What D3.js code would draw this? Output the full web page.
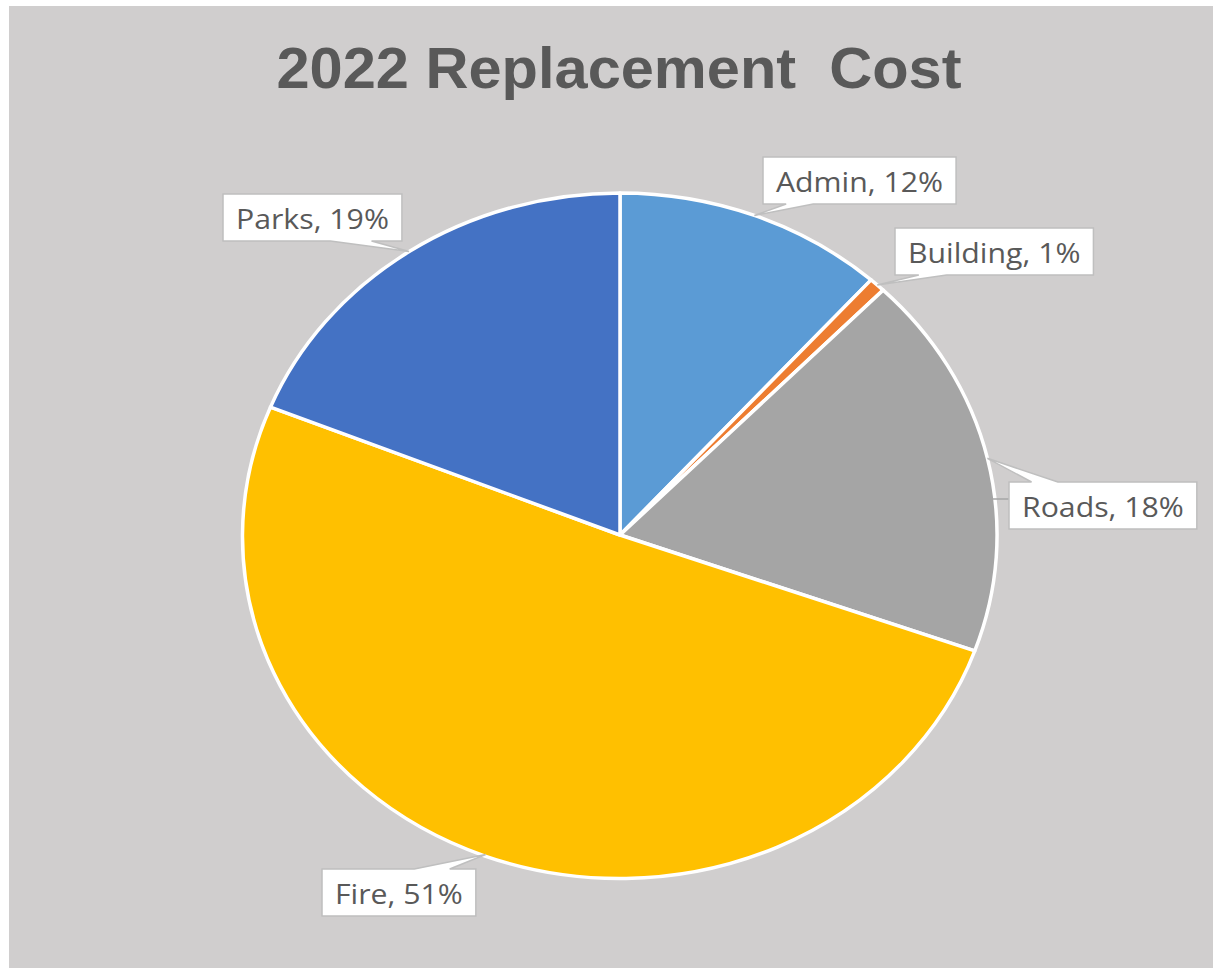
<!DOCTYPE html>
<html>
<head>
<meta charset="utf-8">
<title>2022 Replacement Cost</title>
<script src="https://cdn.jsdelivr.net/npm/d3@7"></script>
<style>
body { margin: 0; background: #fff; }
svg { display: block; }
</style>
</head>
<body>
<div id="grafico"></div>
<script>
// data
var categories = ["Admin", "Building", "Roads", "Fire", "Parks"];
var values = [11.6, 0.7, 18.2, 50.6, 18.9];
var colors = ["#5B9BD5", "#ED7D31", "#A5A5A5", "#FFC000", "#4472C4"];
var title = "2022 Replacement  Cost";

// layout of the label boxes (top-left corner)
var boxPos = {
	Admin:    [763, 157],
	Building: [895, 228],
	Roads:    [1009, 482],
	Fire:     [322, 869],
	Parks:    [223, 194]
};

var W = 1213, H = 968;
var cx = 620, cy = 535, rx = 377, ry = 342;

var svg = d3.select("#grafico").append("svg")
	.attr("width", W)
	.attr("height", H);

// chart area
svg.append("rect")
	.attr("x", 9).attr("y", 6)
	.attr("width", W - 9).attr("height", H - 6)
	.attr("fill", "#D0CECE");

svg.append("text")
	.attr("x", 619).attr("y", 88)
	.attr("text-anchor", "middle")
	.attr("font-family", "'Liberation Sans', Arial, sans-serif")
	.attr("font-weight", "bold")
	.attr("font-size", 57)
	.attr("fill", "#595959")
	.attr("textLength", 685)
	.attr("lengthAdjust", "spacingAndGlyphs")
	.style("white-space", "pre")
	.text(title);

var total = d3.sum(values);
var pie = d3.pie().sort(null).value(function(d) { return d; });
var arcs = pie(values);

var arc = d3.arc().innerRadius(0).outerRadius(1);

var g = svg.append("g")
	.attr("transform", "translate(" + cx + "," + cy + ") scale(" + rx + "," + ry + ")");

g.selectAll("path")
	.data(arcs)
  .enter().append("path")
	.attr("d", arc)
	.attr("fill", function(d, i) { return colors[i]; })
	.attr("stroke", "#fff")
	.attr("stroke-width", 3.5)
	.attr("stroke-linejoin", "round")
	.attr("vector-effect", "non-scaling-stroke");

// point on the ellipse edge for an angle (clockwise from top)
function edge(a) {
	return [cx + rx * Math.sin(a), cy - ry * Math.cos(a)];
}

// callout box with a tail on the top or bottom edge
function callout(x0, y0, w, h, tip) {
	var x1 = x0 + w, y1 = y0 + h;
	var left = tip[0] < x0 + w / 2;
	var b1 = left ? x0 + 0.12 * w : x0 + 0.6 * w;
	var b2 = left ? x0 + 0.26 * w : x0 + 0.83 * w;
	if (tip[1] < y0) {
		return "M" + x0 + "," + y0 + "H" + b1 + "L" + tip[0] + "," + tip[1] + "L" + b2 + "," + y0 +
			"H" + x1 + "V" + y1 + "H" + x0 + "Z";
	}
	return "M" + x0 + "," + y0 + "H" + x1 + "V" + y1 + "H" + b2 + "L" + tip[0] + "," + tip[1] +
		"L" + b1 + "," + y1 + "H" + x0 + "Z";
}

var labels = svg.append("g");

arcs.forEach(function(d, i) {
	var name = categories[i];
	var pos = boxPos[name];
	var pct = Math.round(d.value / total * 100);
	var tip = edge((d.startAngle + d.endAngle) / 2);

	var lg = labels.append("g");
	var box = lg.append("path");
	var t = lg.append("text")
		.attr("x", pos[0] + 13)
		.attr("y", pos[1] + 35)
		.attr("font-family", "'Open Sans', 'Noto Sans', sans-serif")
		.attr("font-size", 28)
		.attr("fill", "#595959")
		.text(name + ", " + pct + "%");
	var tw = t.node().getComputedTextLength() * 1.08;
	t.attr("textLength", tw).attr("lengthAdjust", "spacingAndGlyphs");

	var bw = tw + 26, bh = 47;
	// tail only when the slice edge sits above or below the box
	if (tip[1] < pos[1] || tip[1] > pos[1] + bh) {
		box.attr("d", callout(pos[0], pos[1], bw, bh, tip));
	} else {
		box.attr("d", callout(pos[0], pos[1], bw, bh, [pos[0], pos[1]]));
	}
	box.attr("fill", "#fff")
		.attr("stroke", "#BFBFBF")
		.attr("stroke-width", 1.5);

	if (name === "Roads") {
		var ly = pos[1] + 17;
		lg.insert("line", ":first-child")
			.attr("x1", pos[0] - 17).attr("x2", pos[0])
			.attr("y1", ly).attr("y2", ly)
			.attr("stroke", "#A6A6A6")
			.attr("stroke-width", 1.5);
	}
});
</script>
</body>
</html>
